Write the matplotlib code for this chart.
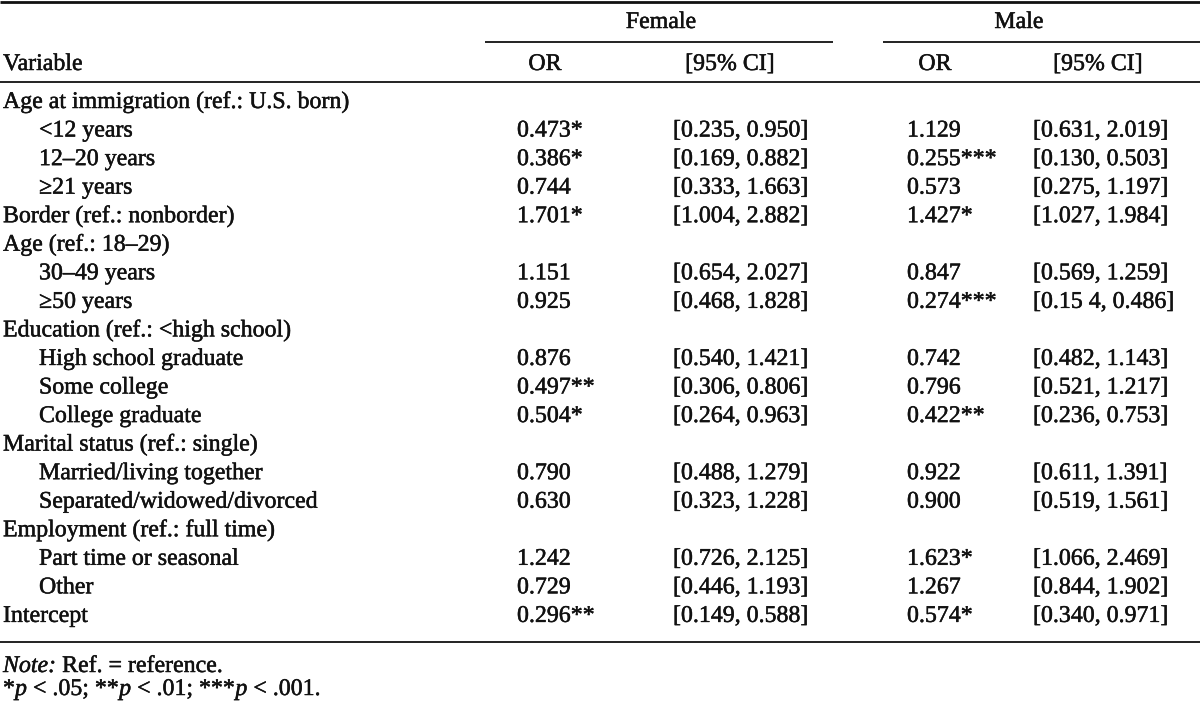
import matplotlib
matplotlib.use("Agg")
import matplotlib.pyplot as plt
import matplotlib.patheffects as pe

# ---- table content ----
variables = [
    "Age at immigration (ref.: U.S. born)", "<12 years", "12\u201320 years", "\u226521 years",
    "Border (ref.: nonborder)", "Age (ref.: 18\u201329)", "30\u201349 years", "\u226550 years",
    "Education (ref.: <high school)", "High school graduate", "Some college", "College graduate",
    "Marital status (ref.: single)", "Married/living together", "Separated/widowed/divorced",
    "Employment (ref.: full time)", "Part time or seasonal", "Other", "Intercept",
]
indented = [False, True, True, True, False, False, True, True, False, True, True, True,
            False, True, True, False, True, True, False]
female_or = ["", "0.473*", "0.386*", "0.744", "1.701*", "", "1.151", "0.925", "",
             "0.876", "0.497**", "0.504*", "", "0.790", "0.630", "", "1.242", "0.729", "0.296**"]
female_ci = ["", "[0.235, 0.950]", "[0.169, 0.882]", "[0.333, 1.663]", "[1.004, 2.882]", "",
             "[0.654, 2.027]", "[0.468, 1.828]", "", "[0.540, 1.421]", "[0.306, 0.806]",
             "[0.264, 0.963]", "", "[0.488, 1.279]", "[0.323, 1.228]", "", "[0.726, 2.125]",
             "[0.446, 1.193]", "[0.149, 0.588]"]
male_or = ["", "1.129", "0.255***", "0.573", "1.427*", "", "0.847", "0.274***", "",
           "0.742", "0.796", "0.422**", "", "0.922", "0.900", "", "1.623*", "1.267", "0.574*"]
male_ci = ["", "[0.631, 2.019]", "[0.130, 0.503]", "[0.275, 1.197]", "[1.027, 1.984]", "",
           "[0.569, 1.259]", "[0.15 4, 0.486]", "", "[0.482, 1.143]", "[0.521, 1.217]",
           "[0.236, 0.753]", "", "[0.611, 1.391]", "[0.519, 1.561]", "", "[1.066, 2.469]",
           "[0.844, 1.902]", "[0.340, 0.971]"]
group_labels = ["Female", "Male"]
col_headers = ["Variable", "OR", "[95% CI]", "OR", "[95% CI]"]

# ---- layout ----
W, H = 1200, 705
FS = 17.2
FONT = "Liberation Serif"
INK = "#111111"
EFFECT = [pe.withStroke(linewidth=0.35, foreground=INK)]

fig = plt.figure(figsize=(W / 100, H / 100), dpi=100)
ax = fig.add_axes([0, 0, 1, 1])
ax.set_xlim(0, W)
ax.set_ylim(H, 0)
ax.axis("off")

def txt(x, y, s, ha="left", style="normal"):
    return ax.text(x, y, s, ha=ha, va="baseline", fontsize=FS, family=FONT,
                   style=style, color=INK, path_effects=EFFECT)

# rules
ax.plot([0, W], [1.5, 1.5], color=INK, lw=2.0, solid_capstyle="butt")
ax.plot([485, 833], [42, 42], color=INK, lw=1.3, solid_capstyle="butt")
ax.plot([883, W], [42, 42], color=INK, lw=1.3, solid_capstyle="butt")
ax.plot([0, W], [82, 82], color=INK, lw=1.3, solid_capstyle="butt")
ax.plot([0, W], [642, 642], color=INK, lw=1.3, solid_capstyle="butt")

# group headers
txt(661, 28, group_labels[0], ha="center")
txt(1019, 28, group_labels[1], ha="center")

# column headers
txt(3, 70, col_headers[0])
txt(545, 70, col_headers[1], ha="center")
txt(730, 70, col_headers[2], ha="center")
txt(935, 70, col_headers[3], ha="center")
txt(1098, 70, col_headers[4], ha="center")

# body
y0, dy = 108, 28.55
for i, v in enumerate(variables):
    y = y0 + dy * i
    txt(39 if indented[i] else 3, y, v)
    txt(517, y, female_or[i])
    txt(673, y, female_ci[i])
    txt(907, y, male_or[i])
    txt(1033, y, male_ci[i])

# notes with mixed styles
fig.canvas.draw()
renderer = fig.canvas.get_renderer()

def runs(x, y, parts):
    for s, st in parts:
        t = txt(x, y, s, style=st)
        bb = t.get_window_extent(renderer=renderer)
        x += bb.width
    return x

runs(3, 672, [("Note:", "italic"), (" Ref. = reference.", "normal")])
runs(3, 695, [("*", "normal"), ("p", "italic"), (" < .05; **", "normal"), ("p", "italic"),
              (" < .01; ***", "normal"), ("p", "italic"), (" < .001.", "normal")])

fig.savefig("out.png", dpi=100)
